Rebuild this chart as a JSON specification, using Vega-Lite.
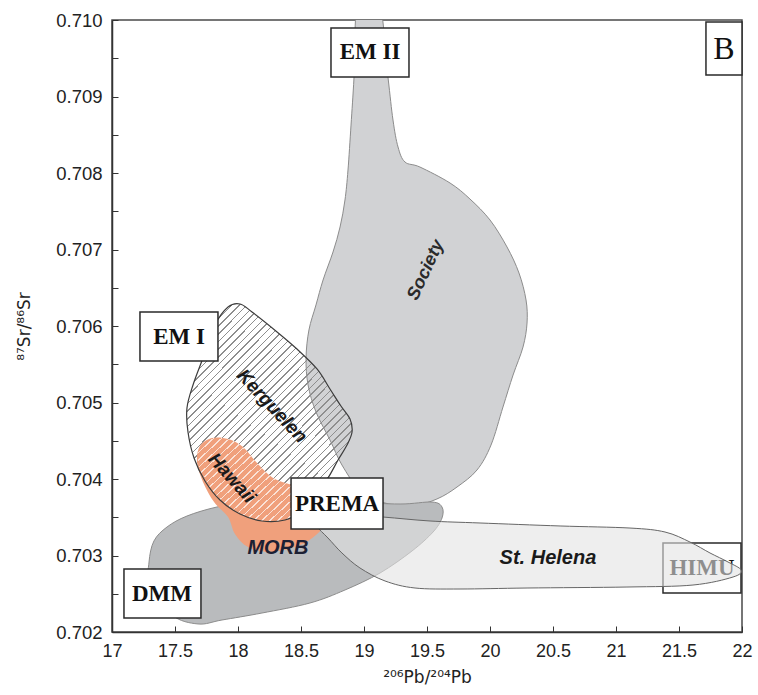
{
  "$schema": "https://vega.github.io/schema/vega-lite/v6.json",
  "width": 630,
  "height": 612,
  "autosize": {"type": "none"},
  "padding": {"left": 112, "top": 20, "right": 16, "bottom": 63},
  "config": {"view": {"stroke": "#4a4a4a", "strokeWidth": 1.5}, "font": "Liberation Sans"},
  "datasets": {
    "society": [
      {"i": 1, "x": 18.952, "y": 0.710235}, {"i": 2, "x": 19.119, "y": 0.710235},
      {"i": 3, "x": 19.190, "y": 0.709255}, {"i": 4, "x": 19.230, "y": 0.708693},
      {"i": 5, "x": 19.270, "y": 0.708340}, {"i": 6, "x": 19.325, "y": 0.708144},
      {"i": 7, "x": 19.444, "y": 0.708078}, {"i": 8, "x": 19.683, "y": 0.707869},
      {"i": 9, "x": 19.841, "y": 0.707660}, {"i": 10, "x": 20.000, "y": 0.707386},
      {"i": 11, "x": 20.135, "y": 0.707033}, {"i": 12, "x": 20.230, "y": 0.706693},
      {"i": 13, "x": 20.286, "y": 0.706340}, {"i": 14, "x": 20.294, "y": 0.706039},
      {"i": 15, "x": 20.262, "y": 0.705725}, {"i": 16, "x": 20.183, "y": 0.705359},
      {"i": 17, "x": 20.103, "y": 0.704941}, {"i": 18, "x": 20.008, "y": 0.704444},
      {"i": 19, "x": 19.897, "y": 0.704118}, {"i": 20, "x": 19.738, "y": 0.703895},
      {"i": 21, "x": 19.579, "y": 0.703739}, {"i": 22, "x": 19.381, "y": 0.703647},
      {"i": 23, "x": 19.167, "y": 0.703686}, {"i": 24, "x": 18.968, "y": 0.703856},
      {"i": 25, "x": 18.825, "y": 0.704183}, {"i": 26, "x": 18.730, "y": 0.704510},
      {"i": 27, "x": 18.619, "y": 0.704876}, {"i": 28, "x": 18.556, "y": 0.705229},
      {"i": 29, "x": 18.540, "y": 0.705582}, {"i": 30, "x": 18.563, "y": 0.705948},
      {"i": 31, "x": 18.619, "y": 0.706275}, {"i": 32, "x": 18.675, "y": 0.706601},
      {"i": 33, "x": 18.754, "y": 0.706967}, {"i": 34, "x": 18.810, "y": 0.707294},
      {"i": 35, "x": 18.849, "y": 0.707647}, {"i": 36, "x": 18.873, "y": 0.708039},
      {"i": 37, "x": 18.897, "y": 0.708627}, {"i": 38, "x": 18.921, "y": 0.709255}
    ],
    "kerguelen": [
      {"i": 1, "x": 17.921, "y": 0.706248}, {"i": 2, "x": 18.016, "y": 0.706288},
      {"i": 3, "x": 18.111, "y": 0.706183}, {"i": 4, "x": 18.310, "y": 0.705922},
      {"i": 5, "x": 18.468, "y": 0.705699}, {"i": 6, "x": 18.627, "y": 0.705438},
      {"i": 7, "x": 18.730, "y": 0.705176}, {"i": 8, "x": 18.817, "y": 0.704954},
      {"i": 9, "x": 18.889, "y": 0.704784}, {"i": 10, "x": 18.905, "y": 0.704614},
      {"i": 11, "x": 18.865, "y": 0.704444}, {"i": 12, "x": 18.794, "y": 0.704248},
      {"i": 13, "x": 18.714, "y": 0.704013}, {"i": 14, "x": 18.611, "y": 0.703778},
      {"i": 15, "x": 18.492, "y": 0.703569}, {"i": 16, "x": 18.373, "y": 0.703464},
      {"i": 17, "x": 18.190, "y": 0.703451}, {"i": 18, "x": 18.016, "y": 0.703542},
      {"i": 19, "x": 17.857, "y": 0.703725}, {"i": 20, "x": 17.738, "y": 0.703974},
      {"i": 21, "x": 17.651, "y": 0.704275}, {"i": 22, "x": 17.603, "y": 0.704614},
      {"i": 23, "x": 17.595, "y": 0.704928}, {"i": 24, "x": 17.643, "y": 0.705229},
      {"i": 25, "x": 17.722, "y": 0.705582}, {"i": 26, "x": 17.817, "y": 0.706013}
    ],
    "orange": [
      {"i": 1, "x": 17.794, "y": 0.704536}, {"i": 2, "x": 17.921, "y": 0.704523},
      {"i": 3, "x": 18.040, "y": 0.704418}, {"i": 4, "x": 18.151, "y": 0.704209},
      {"i": 5, "x": 18.278, "y": 0.704013}, {"i": 6, "x": 18.429, "y": 0.703922},
      {"i": 7, "x": 18.587, "y": 0.703856}, {"i": 8, "x": 18.698, "y": 0.703660},
      {"i": 9, "x": 18.698, "y": 0.703438}, {"i": 10, "x": 18.619, "y": 0.703268},
      {"i": 11, "x": 18.476, "y": 0.703124}, {"i": 12, "x": 18.254, "y": 0.703046},
      {"i": 13, "x": 18.079, "y": 0.703111}, {"i": 14, "x": 17.976, "y": 0.703281},
      {"i": 15, "x": 17.921, "y": 0.703503}, {"i": 16, "x": 17.810, "y": 0.703699},
      {"i": 17, "x": 17.722, "y": 0.703961}, {"i": 18, "x": 17.675, "y": 0.704222},
      {"i": 19, "x": 17.698, "y": 0.704431}
    ],
    "hawaii": [
      {"i": 1, "x": 17.794, "y": 0.704536}, {"i": 2, "x": 17.921, "y": 0.704523},
      {"i": 3, "x": 18.040, "y": 0.704418}, {"i": 4, "x": 18.151, "y": 0.704209},
      {"i": 5, "x": 18.278, "y": 0.704013}, {"i": 6, "x": 18.429, "y": 0.703922},
      {"i": 7, "x": 18.556, "y": 0.703856}, {"i": 8, "x": 18.492, "y": 0.703569},
      {"i": 9, "x": 18.373, "y": 0.703464}, {"i": 10, "x": 18.190, "y": 0.703451},
      {"i": 11, "x": 18.016, "y": 0.703542}, {"i": 12, "x": 17.857, "y": 0.703725},
      {"i": 13, "x": 17.738, "y": 0.703974}, {"i": 14, "x": 17.683, "y": 0.704222},
      {"i": 15, "x": 17.698, "y": 0.704431}
    ],
    "dmm": [
      {"i": 1, "x": 17.302, "y": 0.702614}, {"i": 2, "x": 17.294, "y": 0.702915},
      {"i": 3, "x": 17.333, "y": 0.703190}, {"i": 4, "x": 17.437, "y": 0.703373},
      {"i": 5, "x": 17.595, "y": 0.703516}, {"i": 6, "x": 17.833, "y": 0.703634},
      {"i": 7, "x": 18.095, "y": 0.703699}, {"i": 8, "x": 18.492, "y": 0.703725},
      {"i": 9, "x": 18.889, "y": 0.703699}, {"i": 10, "x": 19.286, "y": 0.703673},
      {"i": 11, "x": 19.540, "y": 0.703699}, {"i": 12, "x": 19.619, "y": 0.703634},
      {"i": 13, "x": 19.619, "y": 0.703490}, {"i": 14, "x": 19.548, "y": 0.703307},
      {"i": 15, "x": 19.381, "y": 0.703059}, {"i": 16, "x": 19.127, "y": 0.702771},
      {"i": 17, "x": 18.849, "y": 0.702549}, {"i": 18, "x": 18.571, "y": 0.702379},
      {"i": 19, "x": 18.190, "y": 0.702248}, {"i": 20, "x": 17.873, "y": 0.702157},
      {"i": 21, "x": 17.683, "y": 0.702105}, {"i": 22, "x": 17.476, "y": 0.702222}
    ],
    "helena": [
      {"i": 1, "x": 18.556, "y": 0.703516}, {"i": 2, "x": 18.810, "y": 0.703542},
      {"i": 3, "x": 19.151, "y": 0.703503}, {"i": 4, "x": 19.524, "y": 0.703451},
      {"i": 5, "x": 19.921, "y": 0.703425}, {"i": 6, "x": 20.556, "y": 0.703386},
      {"i": 7, "x": 21.111, "y": 0.703359}, {"i": 8, "x": 21.389, "y": 0.703307},
      {"i": 9, "x": 21.587, "y": 0.703176}, {"i": 10, "x": 21.746, "y": 0.703033},
      {"i": 11, "x": 21.889, "y": 0.702915}, {"i": 12, "x": 21.992, "y": 0.702810},
      {"i": 13, "x": 21.929, "y": 0.702719}, {"i": 14, "x": 21.611, "y": 0.702614},
      {"i": 15, "x": 21.087, "y": 0.702588}, {"i": 16, "x": 20.294, "y": 0.702575},
      {"i": 17, "x": 19.762, "y": 0.702562}, {"i": 18, "x": 19.405, "y": 0.702575},
      {"i": 19, "x": 19.167, "y": 0.702667}, {"i": 20, "x": 18.968, "y": 0.702837},
      {"i": 21, "x": 18.825, "y": 0.703033}, {"i": 22, "x": 18.714, "y": 0.703229},
      {"i": 23, "x": 18.619, "y": 0.703386}
    ],
    "boxes": [
      {"name": "EM II", "x": 18.738, "x2": 19.357, "y": 0.709895, "y2": 0.709255},
      {"name": "EM I", "x": 17.222, "x2": 17.841, "y": 0.706183, "y2": 0.705542},
      {"name": "PREMA", "x": 18.421, "x2": 19.151, "y": 0.704013, "y2": 0.703346},
      {"name": "DMM", "x": 17.095, "x2": 17.706, "y": 0.702824, "y2": 0.702183},
      {"name": "HIMU", "x": 21.373, "x2": 21.992, "y": 0.703163, "y2": 0.702510},
      {"name": "B", "x": 21.714, "x2": 22.0, "y": 0.709974, "y2": 0.709281}
    ],
    "boxlabels": [
      {"label": "EM II", "x": 19.048, "y": 0.709582},
      {"label": "EM I", "x": 17.532, "y": 0.705856},
      {"label": "PREMA", "x": 18.786, "y": 0.703673},
      {"label": "DMM", "x": 17.397, "y": 0.702497},
      {"label": "HIMU", "x": 21.683, "y": 0.702837}
    ]
  },
  "encoding": {
    "x": {
      "field": "x", "type": "quantitative",
      "scale": {"domain": [17, 22], "nice": false, "zero": false},
      "axis": {
        "title": "²⁰⁶Pb/²⁰⁴Pb",
        "values": [17, 17.5, 18, 18.5, 19, 19.5, 20, 20.5, 21, 21.5, 22],
        "labelExpr": "format(datum.value, '~g')",
        "grid": false, "tickSize": -6, "labelPadding": 16, "labelFlush": false,
        "labelFontSize": 18, "labelColor": "#222", "tickColor": "#333",
        "domainColor": "#333", "domainWidth": 1.5,
        "titleFont": "DejaVu Sans", "titleFontSize": 17, "titleFontWeight": "normal", "titleColor": "#222", "titlePadding": 9
      }
    },
    "y": {
      "field": "y", "type": "quantitative",
      "scale": {"domain": [0.702, 0.71], "nice": false, "zero": false},
      "axis": {
        "title": "⁸⁷Sr/⁸⁶Sr",
        "values": [0.702, 0.7025, 0.703, 0.7035, 0.704, 0.7045, 0.705, 0.7055, 0.706, 0.7065, 0.707, 0.7075, 0.708, 0.7085, 0.709, 0.7095, 0.71],
        "labelExpr": "round(datum.value * 2000) % 2 == 1 ? '' : format(datum.value, '.3f')",
        "grid": false, "tickSize": -6, "labelPadding": 16,
        "labelFontSize": 18.5, "labelColor": "#222", "tickColor": "#333",
        "domainColor": "#333", "domainWidth": 1.5,
        "titleFont": "DejaVu Sans", "titleFontSize": 17, "titleFontWeight": "normal", "titleColor": "#222", "titlePadding": 22
      }
    }
  },
  "layer": [
    {
      "data": {"name": "society"},
      "mark": {"type": "line", "interpolate": "cardinal-closed", "fill": "#d1d2d4", "stroke": "#8c8c8c", "strokeWidth": 1, "clip": true},
      "encoding": {"order": {"field": "i", "type": "quantitative"}}
    },
    {
      "data": {"name": "dmm"},
      "mark": {"type": "line", "interpolate": "cardinal-closed", "fill": "#b9bbbd", "stroke": "#8c8c8c", "strokeWidth": 1, "clip": true},
      "encoding": {"order": {"field": "i", "type": "quantitative"}}
    },
    {
      "data": {"name": "kerguelen"},
      "mark": {"type": "line", "interpolate": "cardinal-closed", "strokeOpacity": 0, "clip": true,
        "fill": {"gradient": "linear", "x1": 0, "y1": 0, "x2": 0.852, "y2": 1.114, "stops": [
          {"offset":0,"color":"#8e8e8e"},{"offset":0.004,"color":"#8e8e8e"},{"offset":0.004,"color":"rgba(255,255,255,0)"},{"offset":0.02,"color":"rgba(255,255,255,0)"},
          {"offset":0.02,"color":"#8e8e8e"},{"offset":0.024,"color":"#8e8e8e"},{"offset":0.024,"color":"rgba(255,255,255,0)"},{"offset":0.04,"color":"rgba(255,255,255,0)"},
          {"offset":0.04,"color":"#8e8e8e"},{"offset":0.044,"color":"#8e8e8e"},{"offset":0.044,"color":"rgba(255,255,255,0)"},{"offset":0.06,"color":"rgba(255,255,255,0)"},
          {"offset":0.06,"color":"#8e8e8e"},{"offset":0.064,"color":"#8e8e8e"},{"offset":0.064,"color":"rgba(255,255,255,0)"},{"offset":0.08,"color":"rgba(255,255,255,0)"},
          {"offset":0.08,"color":"#8e8e8e"},{"offset":0.084,"color":"#8e8e8e"},{"offset":0.084,"color":"rgba(255,255,255,0)"},{"offset":0.1,"color":"rgba(255,255,255,0)"},
          {"offset":0.1,"color":"#8e8e8e"},{"offset":0.104,"color":"#8e8e8e"},{"offset":0.104,"color":"rgba(255,255,255,0)"},{"offset":0.12,"color":"rgba(255,255,255,0)"},
          {"offset":0.12,"color":"#8e8e8e"},{"offset":0.124,"color":"#8e8e8e"},{"offset":0.124,"color":"rgba(255,255,255,0)"},{"offset":0.14,"color":"rgba(255,255,255,0)"},
          {"offset":0.14,"color":"#8e8e8e"},{"offset":0.144,"color":"#8e8e8e"},{"offset":0.144,"color":"rgba(255,255,255,0)"},{"offset":0.16,"color":"rgba(255,255,255,0)"},
          {"offset":0.16,"color":"#8e8e8e"},{"offset":0.164,"color":"#8e8e8e"},{"offset":0.164,"color":"rgba(255,255,255,0)"},{"offset":0.18,"color":"rgba(255,255,255,0)"},
          {"offset":0.18,"color":"#8e8e8e"},{"offset":0.184,"color":"#8e8e8e"},{"offset":0.184,"color":"rgba(255,255,255,0)"},{"offset":0.2,"color":"rgba(255,255,255,0)"},
          {"offset":0.2,"color":"#8e8e8e"},{"offset":0.204,"color":"#8e8e8e"},{"offset":0.204,"color":"rgba(255,255,255,0)"},{"offset":0.22,"color":"rgba(255,255,255,0)"},
          {"offset":0.22,"color":"#8e8e8e"},{"offset":0.224,"color":"#8e8e8e"},{"offset":0.224,"color":"rgba(255,255,255,0)"},{"offset":0.24,"color":"rgba(255,255,255,0)"},
          {"offset":0.24,"color":"#8e8e8e"},{"offset":0.244,"color":"#8e8e8e"},{"offset":0.244,"color":"rgba(255,255,255,0)"},{"offset":0.26,"color":"rgba(255,255,255,0)"},
          {"offset":0.26,"color":"#8e8e8e"},{"offset":0.264,"color":"#8e8e8e"},{"offset":0.264,"color":"rgba(255,255,255,0)"},{"offset":0.28,"color":"rgba(255,255,255,0)"},
          {"offset":0.28,"color":"#8e8e8e"},{"offset":0.284,"color":"#8e8e8e"},{"offset":0.284,"color":"rgba(255,255,255,0)"},{"offset":0.3,"color":"rgba(255,255,255,0)"},
          {"offset":0.3,"color":"#8e8e8e"},{"offset":0.304,"color":"#8e8e8e"},{"offset":0.304,"color":"rgba(255,255,255,0)"},{"offset":0.32,"color":"rgba(255,255,255,0)"},
          {"offset":0.32,"color":"#8e8e8e"},{"offset":0.324,"color":"#8e8e8e"},{"offset":0.324,"color":"rgba(255,255,255,0)"},{"offset":0.34,"color":"rgba(255,255,255,0)"},
          {"offset":0.34,"color":"#8e8e8e"},{"offset":0.344,"color":"#8e8e8e"},{"offset":0.344,"color":"rgba(255,255,255,0)"},{"offset":0.36,"color":"rgba(255,255,255,0)"},
          {"offset":0.36,"color":"#8e8e8e"},{"offset":0.364,"color":"#8e8e8e"},{"offset":0.364,"color":"rgba(255,255,255,0)"},{"offset":0.38,"color":"rgba(255,255,255,0)"},
          {"offset":0.38,"color":"#8e8e8e"},{"offset":0.384,"color":"#8e8e8e"},{"offset":0.384,"color":"rgba(255,255,255,0)"},{"offset":0.4,"color":"rgba(255,255,255,0)"},
          {"offset":0.4,"color":"#8e8e8e"},{"offset":0.404,"color":"#8e8e8e"},{"offset":0.404,"color":"rgba(255,255,255,0)"},{"offset":0.42,"color":"rgba(255,255,255,0)"},
          {"offset":0.42,"color":"#8e8e8e"},{"offset":0.424,"color":"#8e8e8e"},{"offset":0.424,"color":"rgba(255,255,255,0)"},{"offset":0.44,"color":"rgba(255,255,255,0)"},
          {"offset":0.44,"color":"#8e8e8e"},{"offset":0.444,"color":"#8e8e8e"},{"offset":0.444,"color":"rgba(255,255,255,0)"},{"offset":0.46,"color":"rgba(255,255,255,0)"},
          {"offset":0.46,"color":"#8e8e8e"},{"offset":0.464,"color":"#8e8e8e"},{"offset":0.464,"color":"rgba(255,255,255,0)"},{"offset":0.48,"color":"rgba(255,255,255,0)"},
          {"offset":0.48,"color":"#8e8e8e"},{"offset":0.484,"color":"#8e8e8e"},{"offset":0.484,"color":"rgba(255,255,255,0)"},{"offset":0.5,"color":"rgba(255,255,255,0)"},
          {"offset":0.5,"color":"#8e8e8e"},{"offset":0.504,"color":"#8e8e8e"},{"offset":0.504,"color":"rgba(255,255,255,0)"},{"offset":0.52,"color":"rgba(255,255,255,0)"},
          {"offset":0.52,"color":"#8e8e8e"},{"offset":0.524,"color":"#8e8e8e"},{"offset":0.524,"color":"rgba(255,255,255,0)"},{"offset":0.54,"color":"rgba(255,255,255,0)"},
          {"offset":0.54,"color":"#8e8e8e"},{"offset":0.544,"color":"#8e8e8e"},{"offset":0.544,"color":"rgba(255,255,255,0)"},{"offset":0.56,"color":"rgba(255,255,255,0)"},
          {"offset":0.56,"color":"#8e8e8e"},{"offset":0.564,"color":"#8e8e8e"},{"offset":0.564,"color":"rgba(255,255,255,0)"},{"offset":0.58,"color":"rgba(255,255,255,0)"},
          {"offset":0.58,"color":"#8e8e8e"},{"offset":0.584,"color":"#8e8e8e"},{"offset":0.584,"color":"rgba(255,255,255,0)"},{"offset":0.6,"color":"rgba(255,255,255,0)"},
          {"offset":0.6,"color":"#8e8e8e"},{"offset":0.604,"color":"#8e8e8e"},{"offset":0.604,"color":"rgba(255,255,255,0)"},{"offset":0.62,"color":"rgba(255,255,255,0)"},
          {"offset":0.62,"color":"#8e8e8e"},{"offset":0.624,"color":"#8e8e8e"},{"offset":0.624,"color":"rgba(255,255,255,0)"},{"offset":0.64,"color":"rgba(255,255,255,0)"},
          {"offset":0.64,"color":"#8e8e8e"},{"offset":0.644,"color":"#8e8e8e"},{"offset":0.644,"color":"rgba(255,255,255,0)"},{"offset":0.66,"color":"rgba(255,255,255,0)"},
          {"offset":0.66,"color":"#8e8e8e"},{"offset":0.664,"color":"#8e8e8e"},{"offset":0.664,"color":"rgba(255,255,255,0)"},{"offset":0.68,"color":"rgba(255,255,255,0)"},
          {"offset":0.68,"color":"#8e8e8e"},{"offset":0.684,"color":"#8e8e8e"},{"offset":0.684,"color":"rgba(255,255,255,0)"},{"offset":0.7,"color":"rgba(255,255,255,0)"},
          {"offset":0.7,"color":"#8e8e8e"},{"offset":0.704,"color":"#8e8e8e"},{"offset":0.704,"color":"rgba(255,255,255,0)"},{"offset":0.72,"color":"rgba(255,255,255,0)"},
          {"offset":0.72,"color":"#8e8e8e"},{"offset":0.724,"color":"#8e8e8e"},{"offset":0.724,"color":"rgba(255,255,255,0)"},{"offset":0.74,"color":"rgba(255,255,255,0)"},
          {"offset":0.74,"color":"#8e8e8e"},{"offset":0.744,"color":"#8e8e8e"},{"offset":0.744,"color":"rgba(255,255,255,0)"},{"offset":0.76,"color":"rgba(255,255,255,0)"},
          {"offset":0.76,"color":"#8e8e8e"},{"offset":0.764,"color":"#8e8e8e"},{"offset":0.764,"color":"rgba(255,255,255,0)"},{"offset":0.78,"color":"rgba(255,255,255,0)"},
          {"offset":0.78,"color":"#8e8e8e"},{"offset":0.784,"color":"#8e8e8e"},{"offset":0.784,"color":"rgba(255,255,255,0)"},{"offset":0.8,"color":"rgba(255,255,255,0)"},
          {"offset":0.8,"color":"#8e8e8e"},{"offset":0.804,"color":"#8e8e8e"},{"offset":0.804,"color":"rgba(255,255,255,0)"},{"offset":0.82,"color":"rgba(255,255,255,0)"},
          {"offset":0.82,"color":"#8e8e8e"},{"offset":0.824,"color":"#8e8e8e"},{"offset":0.824,"color":"rgba(255,255,255,0)"},{"offset":0.84,"color":"rgba(255,255,255,0)"},
          {"offset":0.84,"color":"#8e8e8e"},{"offset":0.844,"color":"#8e8e8e"},{"offset":0.844,"color":"rgba(255,255,255,0)"},{"offset":0.86,"color":"rgba(255,255,255,0)"},
          {"offset":0.86,"color":"#8e8e8e"},{"offset":0.864,"color":"#8e8e8e"},{"offset":0.864,"color":"rgba(255,255,255,0)"},{"offset":0.88,"color":"rgba(255,255,255,0)"},
          {"offset":0.88,"color":"#8e8e8e"},{"offset":0.884,"color":"#8e8e8e"},{"offset":0.884,"color":"rgba(255,255,255,0)"},{"offset":0.9,"color":"rgba(255,255,255,0)"},
          {"offset":0.9,"color":"#8e8e8e"},{"offset":0.904,"color":"#8e8e8e"},{"offset":0.904,"color":"rgba(255,255,255,0)"},{"offset":0.92,"color":"rgba(255,255,255,0)"},
          {"offset":0.92,"color":"#8e8e8e"},{"offset":0.924,"color":"#8e8e8e"},{"offset":0.924,"color":"rgba(255,255,255,0)"},{"offset":0.94,"color":"rgba(255,255,255,0)"},
          {"offset":0.94,"color":"#8e8e8e"},{"offset":0.944,"color":"#8e8e8e"},{"offset":0.944,"color":"rgba(255,255,255,0)"},{"offset":0.96,"color":"rgba(255,255,255,0)"},
          {"offset":0.96,"color":"#8e8e8e"},{"offset":0.964,"color":"#8e8e8e"},{"offset":0.964,"color":"rgba(255,255,255,0)"},{"offset":0.98,"color":"rgba(255,255,255,0)"},
          {"offset":0.98,"color":"#8e8e8e"},{"offset":0.984,"color":"#8e8e8e"},{"offset":0.984,"color":"rgba(255,255,255,0)"},{"offset":1,"color":"rgba(255,255,255,0)"}
        ]}},
      "encoding": {"order": {"field": "i", "type": "quantitative"}}
    },
    {
      "data": {"name": "orange"},
      "mark": {"type": "line", "interpolate": "cardinal-closed", "fill": "#f0a07c", "strokeOpacity": 0, "clip": true},
      "encoding": {"order": {"field": "i", "type": "quantitative"}}
    },
    {
      "data": {"name": "hawaii"},
      "mark": {"type": "line", "interpolate": "cardinal-closed", "strokeOpacity": 0, "clip": true,
        "fill": {"gradient": "linear", "x1": 0, "y1": 0, "x2": 1.09, "y2": 0.889, "stops": [
          {"offset":0,"color":"rgba(255,255,255,0.7)"},{"offset":0.008,"color":"rgba(255,255,255,0.7)"},{"offset":0.008,"color":"rgba(255,255,255,0)"},{"offset":0.04,"color":"rgba(255,255,255,0)"},
          {"offset":0.04,"color":"rgba(255,255,255,0.7)"},{"offset":0.048,"color":"rgba(255,255,255,0.7)"},{"offset":0.048,"color":"rgba(255,255,255,0)"},{"offset":0.08,"color":"rgba(255,255,255,0)"},
          {"offset":0.08,"color":"rgba(255,255,255,0.7)"},{"offset":0.088,"color":"rgba(255,255,255,0.7)"},{"offset":0.088,"color":"rgba(255,255,255,0)"},{"offset":0.12,"color":"rgba(255,255,255,0)"},
          {"offset":0.12,"color":"rgba(255,255,255,0.7)"},{"offset":0.128,"color":"rgba(255,255,255,0.7)"},{"offset":0.128,"color":"rgba(255,255,255,0)"},{"offset":0.16,"color":"rgba(255,255,255,0)"},
          {"offset":0.16,"color":"rgba(255,255,255,0.7)"},{"offset":0.168,"color":"rgba(255,255,255,0.7)"},{"offset":0.168,"color":"rgba(255,255,255,0)"},{"offset":0.2,"color":"rgba(255,255,255,0)"},
          {"offset":0.2,"color":"rgba(255,255,255,0.7)"},{"offset":0.208,"color":"rgba(255,255,255,0.7)"},{"offset":0.208,"color":"rgba(255,255,255,0)"},{"offset":0.24,"color":"rgba(255,255,255,0)"},
          {"offset":0.24,"color":"rgba(255,255,255,0.7)"},{"offset":0.248,"color":"rgba(255,255,255,0.7)"},{"offset":0.248,"color":"rgba(255,255,255,0)"},{"offset":0.28,"color":"rgba(255,255,255,0)"},
          {"offset":0.28,"color":"rgba(255,255,255,0.7)"},{"offset":0.288,"color":"rgba(255,255,255,0.7)"},{"offset":0.288,"color":"rgba(255,255,255,0)"},{"offset":0.32,"color":"rgba(255,255,255,0)"},
          {"offset":0.32,"color":"rgba(255,255,255,0.7)"},{"offset":0.328,"color":"rgba(255,255,255,0.7)"},{"offset":0.328,"color":"rgba(255,255,255,0)"},{"offset":0.36,"color":"rgba(255,255,255,0)"},
          {"offset":0.36,"color":"rgba(255,255,255,0.7)"},{"offset":0.368,"color":"rgba(255,255,255,0.7)"},{"offset":0.368,"color":"rgba(255,255,255,0)"},{"offset":0.4,"color":"rgba(255,255,255,0)"},
          {"offset":0.4,"color":"rgba(255,255,255,0.7)"},{"offset":0.408,"color":"rgba(255,255,255,0.7)"},{"offset":0.408,"color":"rgba(255,255,255,0)"},{"offset":0.44,"color":"rgba(255,255,255,0)"},
          {"offset":0.44,"color":"rgba(255,255,255,0.7)"},{"offset":0.448,"color":"rgba(255,255,255,0.7)"},{"offset":0.448,"color":"rgba(255,255,255,0)"},{"offset":0.48,"color":"rgba(255,255,255,0)"},
          {"offset":0.48,"color":"rgba(255,255,255,0.7)"},{"offset":0.488,"color":"rgba(255,255,255,0.7)"},{"offset":0.488,"color":"rgba(255,255,255,0)"},{"offset":0.52,"color":"rgba(255,255,255,0)"},
          {"offset":0.52,"color":"rgba(255,255,255,0.7)"},{"offset":0.528,"color":"rgba(255,255,255,0.7)"},{"offset":0.528,"color":"rgba(255,255,255,0)"},{"offset":0.56,"color":"rgba(255,255,255,0)"},
          {"offset":0.56,"color":"rgba(255,255,255,0.7)"},{"offset":0.568,"color":"rgba(255,255,255,0.7)"},{"offset":0.568,"color":"rgba(255,255,255,0)"},{"offset":0.6,"color":"rgba(255,255,255,0)"},
          {"offset":0.6,"color":"rgba(255,255,255,0.7)"},{"offset":0.608,"color":"rgba(255,255,255,0.7)"},{"offset":0.608,"color":"rgba(255,255,255,0)"},{"offset":0.64,"color":"rgba(255,255,255,0)"},
          {"offset":0.64,"color":"rgba(255,255,255,0.7)"},{"offset":0.648,"color":"rgba(255,255,255,0.7)"},{"offset":0.648,"color":"rgba(255,255,255,0)"},{"offset":0.68,"color":"rgba(255,255,255,0)"},
          {"offset":0.68,"color":"rgba(255,255,255,0.7)"},{"offset":0.688,"color":"rgba(255,255,255,0.7)"},{"offset":0.688,"color":"rgba(255,255,255,0)"},{"offset":0.72,"color":"rgba(255,255,255,0)"},
          {"offset":0.72,"color":"rgba(255,255,255,0.7)"},{"offset":0.728,"color":"rgba(255,255,255,0.7)"},{"offset":0.728,"color":"rgba(255,255,255,0)"},{"offset":0.76,"color":"rgba(255,255,255,0)"},
          {"offset":0.76,"color":"rgba(255,255,255,0.7)"},{"offset":0.768,"color":"rgba(255,255,255,0.7)"},{"offset":0.768,"color":"rgba(255,255,255,0)"},{"offset":0.8,"color":"rgba(255,255,255,0)"},
          {"offset":0.8,"color":"rgba(255,255,255,0.7)"},{"offset":0.808,"color":"rgba(255,255,255,0.7)"},{"offset":0.808,"color":"rgba(255,255,255,0)"},{"offset":0.84,"color":"rgba(255,255,255,0)"},
          {"offset":0.84,"color":"rgba(255,255,255,0.7)"},{"offset":0.848,"color":"rgba(255,255,255,0.7)"},{"offset":0.848,"color":"rgba(255,255,255,0)"},{"offset":0.88,"color":"rgba(255,255,255,0)"},
          {"offset":0.88,"color":"rgba(255,255,255,0.7)"},{"offset":0.888,"color":"rgba(255,255,255,0.7)"},{"offset":0.888,"color":"rgba(255,255,255,0)"},{"offset":0.92,"color":"rgba(255,255,255,0)"},
          {"offset":0.92,"color":"rgba(255,255,255,0.7)"},{"offset":0.928,"color":"rgba(255,255,255,0.7)"},{"offset":0.928,"color":"rgba(255,255,255,0)"},{"offset":0.96,"color":"rgba(255,255,255,0)"},
          {"offset":0.96,"color":"rgba(255,255,255,0.7)"},{"offset":0.968,"color":"rgba(255,255,255,0.7)"},{"offset":0.968,"color":"rgba(255,255,255,0)"},{"offset":1,"color":"rgba(255,255,255,0)"}
        ]}},
      "encoding": {"order": {"field": "i", "type": "quantitative"}}
    },
    {
      "data": {"name": "kerguelen"},
      "mark": {"type": "line", "interpolate": "cardinal-closed", "stroke": "#3c3c3c", "strokeWidth": 1.2, "clip": true},
      "encoding": {"order": {"field": "i", "type": "quantitative"}}
    },
    {
      "data": {"name": "boxes"},
      "transform": [{"filter": "datum.name == 'HIMU'"}],
      "mark": {"type": "rect", "fill": "white", "stroke": "#2a2a2a", "strokeWidth": 1.5},
      "encoding": {"x2": {"field": "x2"}, "y2": {"field": "y2"}}
    },
    {
      "data": {"name": "boxlabels"},
      "transform": [{"filter": "datum.label == 'HIMU'"}],
      "mark": {"type": "text", "font": "Liberation Serif", "fontWeight": "bold", "fontSize": 23, "color": "#111", "baseline": "middle"},
      "encoding": {"text": {"field": "label"}}
    },
    {
      "data": {"name": "helena"},
      "mark": {"type": "line", "interpolate": "cardinal-closed", "fill": "#e3e3e3", "fillOpacity": 0.6, "stroke": "#666666", "strokeWidth": 1, "clip": true},
      "encoding": {"order": {"field": "i", "type": "quantitative"}}
    },
    {
      "data": {"name": "boxes"},
      "transform": [{"filter": "datum.name != 'HIMU'"}],
      "mark": {"type": "rect", "fill": "white", "stroke": "#2a2a2a", "strokeWidth": 1.5},
      "encoding": {"x2": {"field": "x2"}, "y2": {"field": "y2"}}
    },
    {
      "data": {"name": "boxlabels"},
      "transform": [{"filter": "datum.label != 'HIMU'"}],
      "mark": {"type": "text", "font": "Liberation Serif", "fontWeight": "bold", "fontSize": 23, "color": "#111", "baseline": "middle"},
      "encoding": {"text": {"field": "label"}}
    },
    {
      "data": {"values": [{"label": "B", "x": 21.857, "y": 0.709621}]},
      "mark": {"type": "text", "font": "Liberation Serif", "fontSize": 32, "color": "#111", "baseline": "middle"},
      "encoding": {"text": {"field": "label"}}
    },
    {
      "data": {"values": [{"label": "Society", "x": 19.492, "y": 0.706732}]},
      "mark": {"type": "text", "angle": 295, "fontSize": 18, "fontStyle": "italic", "fontWeight": "bold", "color": "#2a2a2a", "baseline": "middle"},
      "encoding": {"text": {"field": "label"}}
    },
    {
      "data": {"values": [{"label": "Kerguelen", "x": 18.270, "y": 0.704954}]},
      "mark": {"type": "text", "angle": 47, "fontSize": 19, "fontStyle": "italic", "fontWeight": "bold", "color": "#1a1a1a", "baseline": "middle"},
      "encoding": {"text": {"field": "label"}}
    },
    {
      "data": {"values": [{"label": "Hawaii", "x": 17.952, "y": 0.704013}]},
      "mark": {"type": "text", "angle": 48, "fontSize": 19, "fontStyle": "italic", "fontWeight": "bold", "color": "#1a1a1a", "baseline": "middle"},
      "encoding": {"text": {"field": "label"}}
    },
    {
      "data": {"values": [{"label": "MORB", "x": 18.317, "y": 0.703098}]},
      "mark": {"type": "text", "fontSize": 20, "fontStyle": "italic", "fontWeight": "bold", "color": "#1c2033", "baseline": "middle"},
      "encoding": {"text": {"field": "label"}}
    },
    {
      "data": {"values": [{"label": "St. Helena", "x": 20.460, "y": 0.702967}]},
      "mark": {"type": "text", "fontSize": 20, "fontStyle": "italic", "fontWeight": "bold", "color": "#1a1a1a", "baseline": "middle"},
      "encoding": {"text": {"field": "label"}}
    }
  ]
}
